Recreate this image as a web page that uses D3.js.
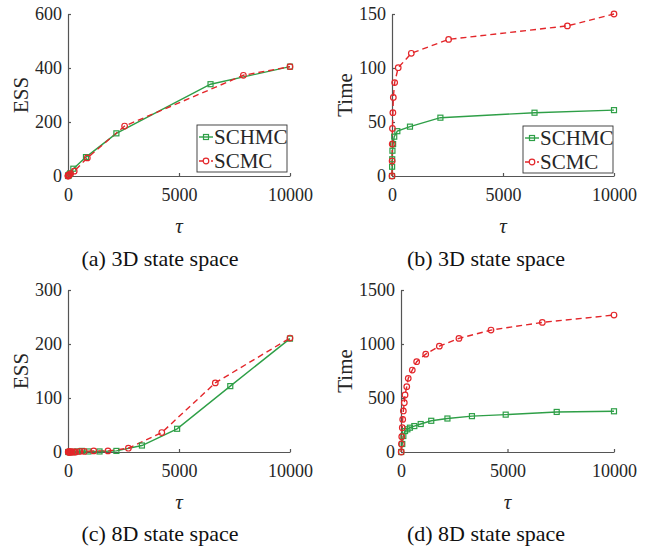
<!DOCTYPE html>
<html>
<head>
<meta charset="utf-8">
<script src="https://cdn.jsdelivr.net/npm/d3@7"></script>
<style>
  body { margin: 0; background: #fff; }
  svg { display: block; }
  .tick text { font-family: "Liberation Serif", serif; font-size: 18px; fill: #262626; }
  .domain, .tick line { stroke: #555; stroke-width: 1.2; }
</style>
</head>
<body>
<svg id="fig" width="652" height="548"></svg>
<script>
// 3D state space: tau values used by each sampler
var tau3_schmc = [1, 5, 10, 20, 50, 100, 240, 810, 2180, 6420, 10000];
var tau3_scmc  = [1, 5, 10, 20, 40, 60, 120, 280, 870, 2550, 7900, 10000];
var ess3_schmc = [0, 0.5, 1, 2, 5, 10, 27, 70, 158, 340, 405];
var ess3_scmc  = [0, 0.5, 1, 2, 3, 5, 9, 18, 67, 185, 373, 405];
var time3_schmc = [0, 8.6, 15.5, 23.4, 29.6, 36.4, 41.5, 45.7, 54, 58.6, 61];
var time3_scmc  = [0, 14, 29.6, 44, 58.6, 72.8, 86.5, 100.3, 113.6, 126.5, 139, 150];

// 8D state space
var tau8_schmc = [10, 60, 110, 190, 300, 420, 625, 925, 1420, 2180, 3330, 4915, 7310, 10000];
var tau8_scmc  = [10, 20, 35, 60, 80, 110, 155, 190, 270, 340, 530, 735, 1160, 1800, 2720, 4225, 6635, 10000];
var ess8_schmc = [0, 0, 0, 0, 0, 1, 2, 1, 1, 2, 12, 43, 122, 210];
var ess8_scmc  = [0, 0, 0, 0, 0, 0, 0, 0, 0, 0, 1, 1, 2, 2, 7, 36, 128, 211];
var time8_schmc = [0, 74, 148, 194, 210, 225, 240, 259, 289, 310, 332, 346, 371, 377];
var time8_scmc  = [0, 74, 142, 225, 302, 380, 456, 528, 605, 682, 759, 836, 906, 980, 1052, 1129, 1200, 1268];

var seriesNames = ["SCHMC", "SCMC"];
var xTicks = [0, 5000, 10000];
var captions = ["(a) 3D state space", "(b) 3D state space", "(c) 8D state space", "(d) 8D state space"];

var green = "#2e9f47",
    red = "#e3262a";

var svg = d3.select("#fig");
svg.append("rect").attr("width", 652).attr("height", 548).attr("fill", "#fff");

function zip(xs, ys) {
    return xs.map(function(x, i) { return [x, ys[i]]; });
}

function drawPanel(p) {
    var x = d3.scaleLinear().domain([0, 10000]).range([p.x0, p.x1]);
    var y = d3.scaleLinear().domain([0, p.ymax]).range([p.y0, p.y1]);
    var g = svg.append("g");

    g.append("g")
        .attr("transform", "translate(0," + p.y0 + ")")
        .call(d3.axisBottom(x).tickValues(xTicks).tickSizeInner(-3).tickSizeOuter(0).tickPadding(12)
            .tickFormat(d3.format("d")));

    g.append("g")
        .attr("transform", "translate(" + p.x0 + ",0)")
        .call(d3.axisLeft(y).tickValues(p.yTicks).tickSizeInner(-3).tickSizeOuter(0).tickPadding(6)
            .tickFormat(d3.format("d")));

    var line = d3.line()
        .x(function(d) { return x(d[0]); })
        .y(function(d) { return y(d[1]); });

    var schmc = zip(p.tauA, p.valA),
        scmc = zip(p.tauB, p.valB);

    g.append("path").datum(schmc)
        .attr("d", line).attr("fill", "none")
        .attr("stroke", green).attr("stroke-width", 1.4);

    g.append("path").datum(scmc)
        .attr("d", line).attr("fill", "none")
        .attr("stroke", red).attr("stroke-width", 1.4)
        .attr("stroke-dasharray", "6,4");

    g.selectAll(".sq").data(schmc).enter()
        .append("rect")
        .attr("x", function(d) { return x(d[0]) - 2.5; })
        .attr("y", function(d) { return y(d[1]) - 2.5; })
        .attr("width", 5).attr("height", 5)
        .attr("fill", "none").attr("stroke", green).attr("stroke-width", 1.2);

    g.selectAll(".ci").data(scmc).enter()
        .append("circle")
        .attr("cx", function(d) { return x(d[0]); })
        .attr("cy", function(d) { return y(d[1]); })
        .attr("r", 2.8)
        .attr("fill", "none").attr("stroke", red).attr("stroke-width", 1.2);

    // axis labels
    g.append("text")
        .attr("x", (p.x0 + p.x1) / 2).attr("y", p.y0 + 57)
        .attr("text-anchor", "middle")
        .style("font-family", "'Liberation Serif', serif").style("font-style", "italic")
        .style("font-size", "21px").attr("fill", "#262626")
        .text("τ");

    g.append("text")
        .attr("transform", "translate(" + p.ylabX + "," + ((p.y0 + p.y1) / 2) + ") rotate(-90)")
        .attr("text-anchor", "middle").attr("dy", "0.35em")
        .style("font-family", "'Liberation Serif', serif")
        .style("font-size", "21px").attr("fill", "#262626")
        .text(p.ylabel);

    g.append("text")
        .attr("x", p.capX).attr("y", p.capY)
        .attr("text-anchor", "middle")
        .style("font-family", "'Liberation Serif', serif")
        .style("font-size", "22px").attr("fill", "#111")
        .text(p.caption);

    if (p.legend) {
        var lg = g.append("g").attr("transform", "translate(" + p.legend[0] + "," + p.legend[1] + ")");
        lg.append("rect")
            .attr("width", 90).attr("height", 47)
            .attr("fill", "#fff").attr("stroke", "#333").attr("stroke-width", 0.9);
        var rows = [12, 36];
        seriesNames.forEach(function(name, i) {
            var c = i == 0 ? green : red;
            lg.append("line")
                .attr("x1", 2).attr("x2", 16).attr("y1", rows[i]).attr("y2", rows[i])
                .attr("stroke", c).attr("stroke-width", 1.4)
                .attr("stroke-dasharray", i == 0 ? null : "4,2");
            if (i == 0) {
                lg.append("rect").attr("x", 6.5).attr("y", rows[i] - 2.5).attr("width", 5).attr("height", 5)
                    .attr("fill", "none").attr("stroke", c).attr("stroke-width", 1.2);
            } else {
                lg.append("circle").attr("cx", 9).attr("cy", rows[i]).attr("r", 2.8)
                    .attr("fill", "#fff").attr("stroke", c).attr("stroke-width", 1.2);
            }
            lg.append("text")
                .attr("x", 17).attr("y", rows[i]).attr("dy", "0.35em")
                .style("font-family", "'Liberation Serif', serif")
                .style("font-size", "21px").attr("fill", "#262626")
                .text(name);
        });
    }
}

drawPanel({ x0: 68, x1: 290, y0: 176, y1: 14, ymax: 600, yTicks: [0, 200, 400, 600],
    tauA: tau3_schmc, valA: ess3_schmc, tauB: tau3_scmc, valB: ess3_scmc,
    ylabel: "ESS", ylabX: 21, caption: captions[0], capX: 160, capY: 266, legend: [197, 125] });

drawPanel({ x0: 392, x1: 614, y0: 176, y1: 14, ymax: 150, yTicks: [0, 50, 100, 150],
    tauA: tau3_schmc, valA: time3_schmc, tauB: tau3_scmc, valB: time3_scmc,
    ylabel: "Time", ylabX: 345, caption: captions[1], capX: 486, capY: 266, legend: [523, 126] });

drawPanel({ x0: 68, x1: 290, y0: 452, y1: 290, ymax: 300, yTicks: [0, 100, 200, 300],
    tauA: tau8_schmc, valA: ess8_schmc, tauB: tau8_scmc, valB: ess8_scmc,
    ylabel: "ESS", ylabX: 21, caption: captions[2], capX: 160, capY: 541, legend: null });

drawPanel({ x0: 401, x1: 614, y0: 452, y1: 290, ymax: 1500, yTicks: [0, 500, 1000, 1500],
    tauA: tau8_schmc, valA: time8_schmc, tauB: tau8_scmc, valB: time8_scmc,
    ylabel: "Time", ylabX: 345, caption: captions[3], capX: 486, capY: 541, legend: null });
</script>
</body>
</html>
